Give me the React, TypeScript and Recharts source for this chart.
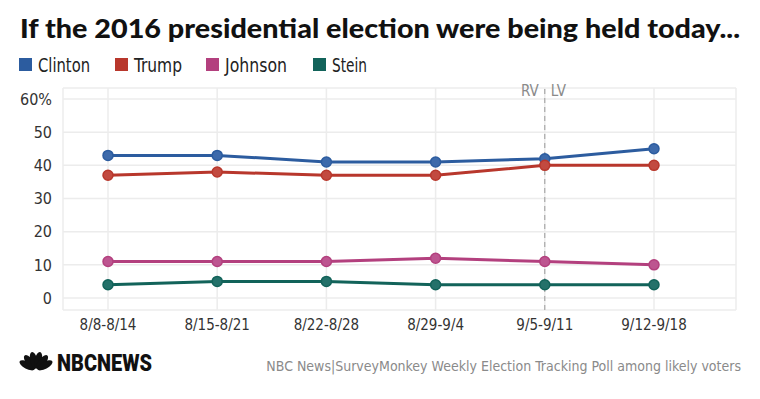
import { LineChart, Line, XAxis, YAxis, CartesianGrid, ReferenceLine } from 'recharts';

const weeks = ['8/8-8/14', '8/15-8/21', '8/22-8/28', '8/29-9/4', '9/5-9/11', '9/12-9/18'];
const clinton = [43, 43, 41, 41, 42, 45];
const trump = [37, 38, 37, 37, 40, 40];
const johnson = [11, 11, 11, 12, 11, 10];
const stein = [4, 5, 5, 4, 4, 4];
const yTicks = [0, 10, 20, 30, 40, 50, 60];

const SERIES = [
  { key: 'Clinton', color: '#2c5c9f', dot: '#3d6aab' },
  { key: 'Trump', color: '#b8372c', dot: '#c24a40' },
  { key: 'Johnson', color: '#b3407e', dot: '#bd5590' },
  { key: 'Stein', color: '#12635a', dot: '#24716a' },
];

// legend layout: square x, text width
const LEGEND_POS = [
  { x: 19, w: 52 },
  { x: 115, w: 48 },
  { x: 206, w: 62 },
  { x: 313, w: 35 },
];

const data = weeks.map((w, i) => ({
  week: w,
  Clinton: clinton[i],
  Trump: trump[i],
  Johnson: johnson[i],
  Stein: stein[i],
}));

const NARROW = '"DejaVu Sans Condensed", Roboto, sans-serif';
const SOURCE = 'NBC News|SurveyMonkey Weekly Election Tracking Poll among likely voters';

// RV / LV split label on the reference line
const SplitLabel = ({ viewBox }: any) => {
  const x = viewBox.x;
  const y = viewBox.y + 8;
  return (
    <g fontFamily={NARROW} fontSize={15} fill="#8a8a8a">
      <text x={x - 6} y={y} textAnchor="end">RV</text>
      <text x={x + 6} y={y} textAnchor="start">LV</text>
    </g>
  );
};

export default function App() {
  return (
    <div style={{ position: 'absolute', left: 0, top: 0, width: 760, height: 399, background: '#fff', overflow: 'hidden' }}>
      <div style={{ position: 'absolute', left: 0, top: 0 }}>
        <LineChart width={760} height={399} data={data} margin={{ top: 88, right: 24, left: 0, bottom: 59 }}>
          <CartesianGrid stroke="#ececec" strokeWidth={1.5} />
          <XAxis
            dataKey="week"
            padding={{ left: 45, right: 82 }}
            axisLine={false}
            tickLine={false}
            tickSize={0}
            tickMargin={9}
            height={30}
            tick={{ fill: '#333', fontSize: 15, fontFamily: NARROW }}
          />
          <YAxis
            domain={[0, 60]}
            ticks={yTicks}
            width={63}
            padding={{ top: 11, bottom: 12 }}
            axisLine={false}
            tickLine={false}
            tickSize={0}
            tickMargin={11}
            tick={{ fill: '#333', fontSize: 16, fontFamily: NARROW }}
            tickFormatter={(v) => (v === 60 ? '60%' : `${v}`)}
          />
          <ReferenceLine x="9/5-9/11" stroke="#9a9a9a" strokeDasharray="5 4" strokeWidth={1} label={<SplitLabel />} />
          {SERIES.map((s) => (
            <Line
              key={s.key}
              dataKey={s.key}
              type="linear"
              stroke={s.color}
              strokeWidth={3}
              dot={{ r: 5, fill: s.dot, stroke: s.color, strokeWidth: 1.5 }}
              isAnimationActive={false}
            />
          ))}
        </LineChart>
      </div>

      {/* Title, legend and footer text */}
      <svg width={760} height={399} style={{ position: 'absolute', left: 0, top: 0, pointerEvents: 'none' }}>
        <text
          x={20}
          y={38}
          fontFamily="Lato, sans-serif"
          fontWeight={900}
          fontSize={26}
          fill="#111"
          textLength={720}
          lengthAdjust="spacingAndGlyphs"
        >
          If the 2016 presidential election were being held today...
        </text>

        {SERIES.map((s, i) => (
          <g key={s.key}>
            <rect x={LEGEND_POS[i].x} y={58} width={13} height={13} fill={s.color} />
            <text
              x={LEGEND_POS[i].x + 19}
              y={72}
              fontFamily={NARROW}
              fontSize={19}
              fill="#222"
              textLength={LEGEND_POS[i].w}
              lengthAdjust="spacingAndGlyphs"
            >
              {s.key}
            </text>
          </g>
        ))}

        {/* peacock */}
        <g transform="translate(19,351)">
          {[-62, -38, -13, 13, 38, 62].map((a) => (
            <ellipse key={a} cx={17} cy={9} rx={3.6} ry={8.5} fill="#111" transform={`rotate(${a} 17 19)`} />
          ))}
        </g>
        <text
          x={57}
          y={371}
          fontFamily="Roboto, sans-serif"
          fontWeight={900}
          fontSize={24}
          fill="#111"
          textLength={95}
          lengthAdjust="spacingAndGlyphs"
        >
          NBCNEWS
        </text>

        <text x={741} y={371} textAnchor="end" fontFamily={NARROW} fontSize={14} fill="#8a8a8a">
          {SOURCE}
        </text>
      </svg>
    </div>
  );
}
